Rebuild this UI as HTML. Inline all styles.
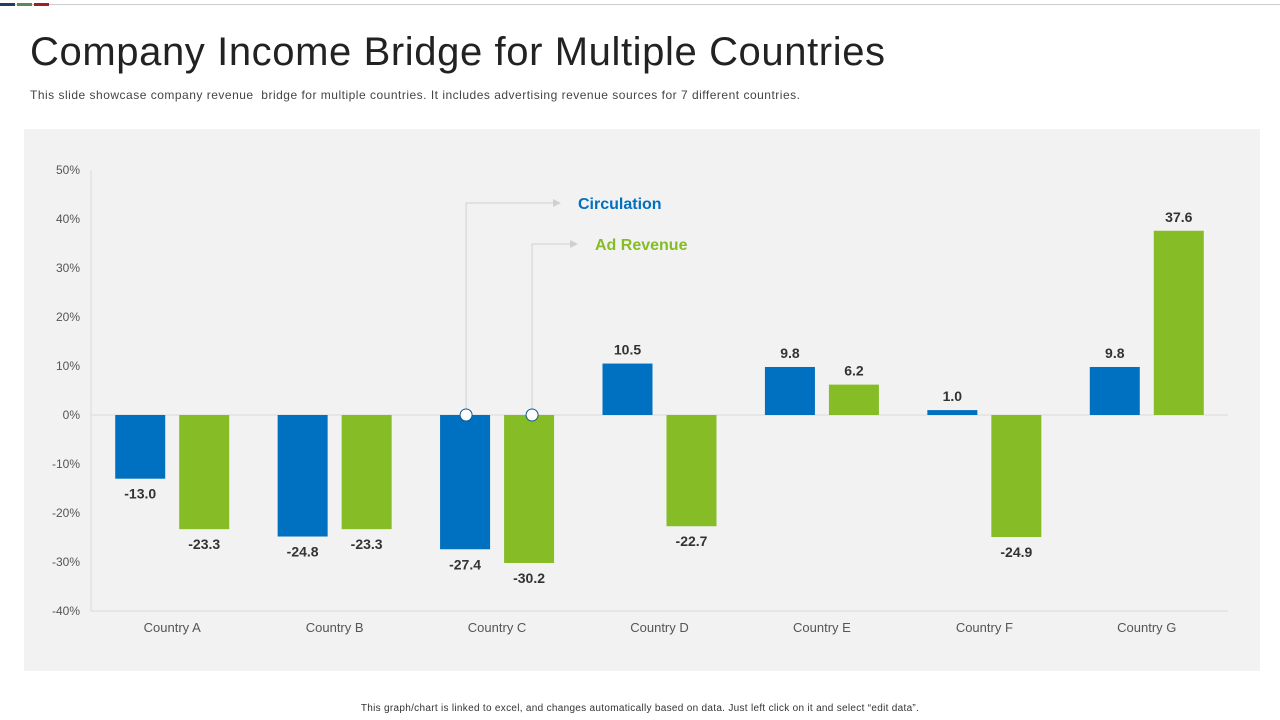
<!DOCTYPE html>
<html><head><meta charset="utf-8"><style>
body{margin:0;width:1280px;height:720px;background:#fff;font-family:"Liberation Sans",sans-serif;position:relative;overflow:hidden}
.t{position:absolute;white-space:nowrap}
</style></head><body>
<div style="position:absolute;left:0;top:4px;width:1280px;height:1px;background:#ccc"></div>
<div style="position:absolute;left:0;top:3px;width:15px;height:3px;background:#1f3f5f"></div>
<div style="position:absolute;left:17px;top:3px;width:15px;height:3px;background:#5a8a5a"></div>
<div style="position:absolute;left:34px;top:3px;width:15px;height:3px;background:#a02020"></div>
<div class="t" style="left:30px;top:30px;font-size:40px;color:#222;letter-spacing:0.6px">Company Income Bridge for Multiple Countries</div>
<div class="t" style="left:30px;top:88px;font-size:12px;color:#444;letter-spacing:0.5px">This slide showcase company revenue &nbsp;bridge for multiple countries. It includes advertising revenue sources for 7 different countries.</div>
<div style="position:absolute;left:24px;top:129px;width:1236px;height:542px;background:#f2f2f2"></div>
<svg id="c" width="1280" height="720" style="position:absolute;left:0;top:0"></svg>
<div class="t" style="left:0;width:1280px;text-align:center;top:703px;font-size:10px;color:#333;letter-spacing:0.3px">This graph/chart is linked to excel, and changes automatically based on data. Just left click on it and select “edit data”.</div>
<script>
const categories=["Country A","Country B","Country C","Country D","Country E","Country F","Country G"];
const circulation=[-13.0,-24.8,-27.4,10.5,9.8,1.0,9.8];
const adRevenue=[-23.3,-23.3,-30.2,-22.7,6.2,-24.9,37.6];
const ticks=[50,40,30,20,10,0,-10,-20,-30,-40];
const NS="http://www.w3.org/2000/svg",svg=document.getElementById('c');
const x0=91,x1=1228,yTop=170,yBot=611,vMax=50,vMin=-40;
const y=v=>yTop+(vMax-v)*(yBot-yTop)/(vMax-vMin);
const bw=(x1-x0)/categories.length;
const xc=i=>x0+bw*(i+0.5);
function el(t,a,txt){const e=document.createElementNS(NS,t);for(const k in a)e.setAttribute(k,a[k]);if(txt!=null)e.textContent=txt;svg.appendChild(e);return e;}
let e=el('line',{x1:x0,x2:x0,y1:yTop,y2:yBot,stroke:'#d9d9d9'});

e=el('line',{x1:x0,x2:x1,y1:yBot,y2:yBot,stroke:'#d9d9d9'});

ticks.forEach(t=>{
 const l=el('text',{x:80,y:y(t)+4,'text-anchor':'end','font-size':12,fill:'#555'},t+'%');
 
});
e=el('line',{x1:x0,x2:x1,y1:y(0),y2:y(0),stroke:'#d9d9d9'});

function bar(i,v,off,color,name){
 const cx=xc(i)+off,top=Math.min(y(v),y(0)),h=Math.abs(y(v)-y(0));
 const r=el('rect',{x:cx-25,y:top,width:50,height:h,fill:color});
 
 const ly=v>=0?y(v)-9:y(v)+20;
 const t=el('text',{x:cx,y:ly,'text-anchor':'middle','font-size':14,'font-weight':'bold',fill:'#333'},v.toFixed(1));
 
}
categories.forEach((c,i)=>{
 bar(i,circulation[i],-32,'#0070c0','bar-circulation');
 bar(i,adRevenue[i],32,'#86bc25','bar-ad-revenue');
 const t=el('text',{x:xc(i),y:632,'text-anchor':'middle','font-size':13,fill:'#555'},c);
 
});
const lx1=xc(2)-31,lx2=xc(2)+35;
e=el('polyline',{points:`${lx1},${y(0)} ${lx1},203 553,203`,fill:'none',stroke:'#d0d0d0'});

e=el('polygon',{points:'553,199 561,203 553,207',fill:'#d0d0d0'});

e=el('polyline',{points:`${lx2},${y(0)} ${lx2},244 570,244`,fill:'none',stroke:'#d0d0d0'});

e=el('polygon',{points:'570,240 578,244 570,248',fill:'#d0d0d0'});

[lx1,lx2].forEach(x=>{e=el('circle',{cx:x,cy:y(0),r:6,fill:'#fff',stroke:'#0d5a8a'});
});
e=el('text',{x:578,y:209,'font-size':16,'font-weight':'bold',fill:'#0070c0'},'Circulation');

e=el('text',{x:595,y:250,'font-size':16,'font-weight':'bold',fill:'#86bc25'},'Ad Revenue');

</script>
</body></html>
